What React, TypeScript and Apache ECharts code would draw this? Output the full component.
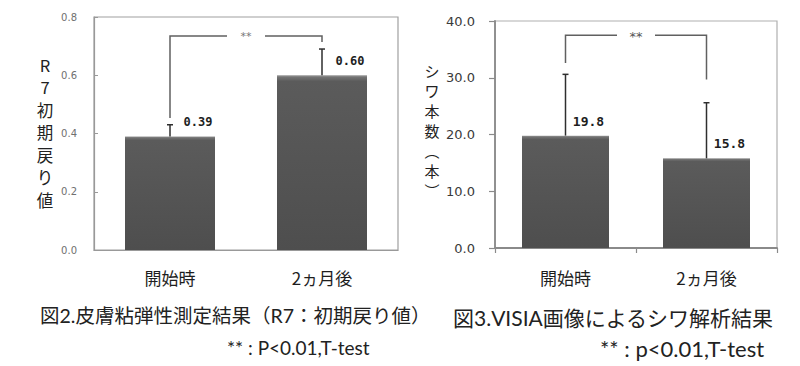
import React, { useEffect, useRef } from "react";
import * as echarts from "echarts";

// ---- data ----
const categories = ["開始時", "2ヵ月後"];

// Fig.2 skin viscoelasticity (R7)
const r7Means = [0.39, 0.6];
const r7SD = [0.04, 0.09];
const r7AxisMin = 0;
const r7AxisMax = 0.8;
const r7AxisStep = 0.2;
// significance bracket: [top, left leg end, right leg end]
const r7Bracket = [0.735, 0.453, 0.714];

// Fig.3 VISIA wrinkle count
const wrinkleMeans = [19.8, 15.8];
const wrinkleSD = [10.8, 9.8];
const wrinkleAxisMin = 0;
const wrinkleAxisMax = 40;
const wrinkleAxisStep = 10;
const wrinkleBracket = [37.5, 32.6, 29.7];

const sigMark = "**";
const r7AxisName = "R\n7\n初\n期\n戻\nり\n値";
const wrinkleAxisName = "シ\nワ\n本\n数\n︵\n本\n︶";
const caption2 = "図2.皮膚粘弾性測定結果（R7：初期戻り値）";
const caption3 = "図3.VISIA画像によるシワ解析結果";
const note2 = "** : P<0.01,T-test";
const note3 = "** : p<0.01,T-test";

const CJK = "'Noto Sans CJK JP', 'Noto Sans', sans-serif";
const CAPTION_FONT = "Lato, 'Noto Sans CJK JP', sans-serif";

const barColor = {
  type: "linear",
  x: 0,
  y: 0,
  x2: 0,
  y2: 1,
  colorStops: [
    { offset: 0, color: "#9a9a9a" },
    { offset: 0.012, color: "#727272" },
    { offset: 0.035, color: "#5b5b5b" },
    { offset: 1, color: "#4e4e4e" },
  ],
};

function errorSeries(means: number[], sds: number[], idx: number) {
  return {
    type: "custom",
    xAxisIndex: idx,
    yAxisIndex: idx,
    z: 5,
    clip: false,
    silent: true,
    data: means.map((m, i) => [i, m, m + sds[i]]),
    encode: { x: 0, y: [1, 2] },
    renderItem: (_p: any, api: any) => {
      const lo = api.coord([api.value(0), api.value(1)]);
      const hi = api.coord([api.value(0), api.value(2)]);
      const st = { stroke: "#2e2e2e", lineWidth: 1.5 };
      return {
        type: "group",
        children: [
          { type: "line", shape: { x1: lo[0], y1: lo[1], x2: hi[0], y2: hi[1] }, style: st },
          { type: "line", shape: { x1: hi[0] - 3, y1: hi[1], x2: hi[0] + 3, y2: hi[1] }, style: st },
        ],
      };
    },
  };
}

function bracketSeries(b: number[], idx: number, fontSize: number, color: string) {
  return {
    type: "custom",
    xAxisIndex: idx,
    yAxisIndex: idx,
    z: 6,
    clip: false,
    silent: true,
    data: [[0, 1, b[0], b[1], b[2]]],
    encode: { x: [0, 1], y: [2, 3, 4] },
    renderItem: (_p: any, api: any) => {
      const a = api.coord([api.value(0), api.value(2)]);
      const c = api.coord([api.value(1), api.value(2)]);
      const la = api.coord([api.value(0), api.value(3)]);
      const rc = api.coord([api.value(1), api.value(4)]);
      const mid = (a[0] + c[0]) / 2;
      const gap = 19;
      const st = { stroke: "#606060", lineWidth: 1.5, fill: "none" };
      return {
        type: "group",
        children: [
          { type: "polyline", shape: { points: [la, a, [mid - gap, a[1]]] }, style: st },
          { type: "polyline", shape: { points: [[mid + gap, c[1]], c, rc] }, style: st },
          {
            type: "text",
            x: mid,
            y: a[1] + 1,
            style: {
              text: sigMark,
              fill: color,
              fontSize,
              fontFamily: "DejaVu Sans",
              align: "center",
              verticalAlign: "middle",
            },
          },
        ],
      };
    },
  };
}

export default function App() {
  const ref = useRef<HTMLDivElement>(null);
  useEffect(() => {
    if (!ref.current) return;
    const chart = echarts.init(ref.current, undefined, { renderer: "svg" });
    const catAxis = (idx: number, showTick: boolean, margin: number) => ({
      type: "category",
      gridIndex: idx,
      data: categories,
      axisLine: { show: true, lineStyle: { color: idx === 0 ? "#999" : "#8a8a8a", width: idx === 0 ? 1.2 : 1.8 } },
      axisTick: { show: showTick, length: 5, lineStyle: { color: "#8a8a8a", width: 1.2 } },
      axisLabel: { color: "#1e1e1e", fontSize: 17, fontFamily: CJK, margin },
      splitLine: { show: false },
    });
    chart.setOption({
      animation: false,
      backgroundColor: "#ffffff",
      grid: [
        { left: 94, top: 17, width: 304, height: 233, show: true, borderColor: "#a0a0a0", borderWidth: 1.2 },
        { left: 495, top: 21, width: 282, height: 227, show: true, borderColor: "#b0b0b0", borderWidth: 1.2 },
      ],
      xAxis: [catAxis(0, false, 19), catAxis(1, true, 21)],
      yAxis: [
        {
          type: "value",
          gridIndex: 0,
          min: r7AxisMin,
          max: r7AxisMax,
          interval: r7AxisStep,
          axisLine: { show: true, lineStyle: { color: "#999", width: 1.2 } },
          axisTick: { show: true, inside: true, length: 4, lineStyle: { color: "#999" } },
          axisLabel: { color: "#707070", fontSize: 10, fontFamily: "DejaVu Sans", margin: 17, formatter: (v: number) => v.toFixed(1) },
          splitLine: { show: false },
        },
        {
          type: "value",
          gridIndex: 1,
          min: wrinkleAxisMin,
          max: wrinkleAxisMax,
          interval: wrinkleAxisStep,
          axisLine: { show: true, lineStyle: { color: "#8a8a8a", width: 1.8 } },
          axisTick: { show: true, inside: false, length: 6, lineStyle: { color: "#8a8a8a", width: 1.2 } },
          axisLabel: { color: "#3a3a3a", fontSize: 13, fontFamily: "DejaVu Sans", margin: 20, formatter: (v: number) => v.toFixed(1) },
          splitLine: { show: false },
        },
      ],
      series: [
        {
          type: "bar",
          xAxisIndex: 0,
          yAxisIndex: 0,
          data: r7Means,
          barWidth: 90,
          itemStyle: { color: barColor },
          label: {
            show: true,
            position: "top",
            offset: [28, -3],
            formatter: (p: any) => p.value.toFixed(2),
            fontFamily: "DejaVu Sans Mono",
            fontWeight: "bold",
            fontSize: 12,
            color: "#1e1e1e",
          },
        },
        errorSeries(r7Means, r7SD, 0),
        bracketSeries(r7Bracket, 0, 11, "#777"),
        {
          type: "bar",
          xAxisIndex: 1,
          yAxisIndex: 1,
          data: wrinkleMeans,
          barWidth: 87,
          itemStyle: { color: barColor },
          label: {
            show: true,
            position: "top",
            offset: [23, -3],
            formatter: (p: any) => p.value.toFixed(1),
            fontFamily: "DejaVu Sans Mono",
            fontWeight: "bold",
            fontSize: 13,
            color: "#1e1e1e",
          },
        },
        errorSeries(wrinkleMeans, wrinkleSD, 1),
        bracketSeries(wrinkleBracket, 1, 13, "#555"),
      ],
      graphic: [
        {
          type: "text",
          x: 45,
          y: 132,
          style: { text: r7AxisName, fontSize: 16.5, lineHeight: 22.5, fontFamily: CJK, fill: "#222", align: "center", verticalAlign: "middle" },
        },
        {
          type: "text",
          x: 432,
          y: 130,
          style: { text: wrinkleAxisName, fontSize: 15, lineHeight: 20, fontFamily: CJK, fill: "#222", align: "center", verticalAlign: "middle" },
        },
        {
          type: "text",
          x: 40,
          y: 315,
          style: { text: caption2, fontSize: 19.5, fontFamily: CAPTION_FONT, fill: "#222", align: "left", verticalAlign: "middle" },
        },
        {
          type: "text",
          x: 453,
          y: 317,
          style: { text: caption3, fontSize: 21, fontFamily: CAPTION_FONT, fill: "#222", align: "left", verticalAlign: "middle" },
        },
        {
          type: "text",
          x: 227,
          y: 347,
          style: { text: note2, fontSize: 19, fontFamily: CAPTION_FONT, fill: "#222", align: "left", verticalAlign: "middle" },
        },
        {
          type: "text",
          x: 600,
          y: 348,
          style: { text: note3, fontSize: 22, fontFamily: CAPTION_FONT, fill: "#222", align: "left", verticalAlign: "middle" },
        },
      ],
    });
    return () => chart.dispose();
  }, []);
  return (
    <div
      ref={ref}
      style={{ position: "absolute", left: 0, top: 0, width: 800, height: 366, background: "#fff" }}
    />
  );
}
